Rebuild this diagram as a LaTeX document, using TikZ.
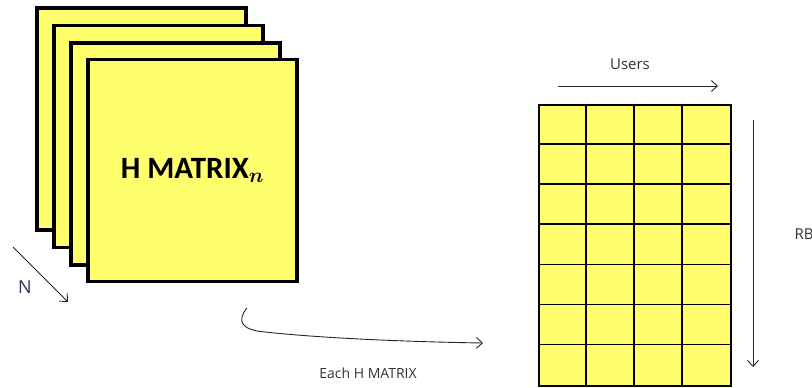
\documentclass[tikz,border=0pt]{standalone}
\usepackage{fontspec}
\setmainfont{Open Sans}
\newfontfamily\titlefont{Carlito}
\usetikzlibrary{arrows.meta}

\definecolor{sheetyellow}{RGB}{255,255,110}
\definecolor{nblue}{RGB}{45,55,85}

\begin{document}
\begin{tikzpicture}[x=1pt, y=-1pt, >={Straight Barb[length=6pt,width=11pt]},
    sheet/.style={rectangle, draw=black, line width=3.2pt, fill=sheetyellow, minimum width=209pt, minimum height=222pt, inner sep=0pt},
    cellgrid/.style={rectangle, draw=black, line width=2.4pt, fill=sheetyellow, minimum width=192pt, minimum height=281pt, inner sep=0pt},
    label/.style={font=\fontsize{15}{17}\selectfont, text=black!80},
    flow/.style={->, line width=0.9pt, black!85}]
\useasboundingbox (0,0) rectangle (812,388);

% Stack of H matrices
\node[sheet] (sheet1) at (141.5,119) {};
\node[sheet] (sheet2) at (158.5,136.5) {};
\node[sheet] (sheet3) at (175.5,154) {};
\node[sheet] (sheet4) at (192.5,170.5) {\titlefont\bfseries\fontsize{31}{34}\selectfont H MATRIX{\boldmath$_{n}$}};

% Depth of the stack
\coordinate (nstart) at (13,247);
\coordinate (nend) at (68,302);
\draw[flow] (nstart) -- (nend);
\node[label, font=\fontsize{18}{20}\selectfont, text=nblue] (nlabel) at (25,287) {N};

% One matrix: RB x users grid
\node[cellgrid] (grid) at (635,245.5) {};
\foreach \i in {1,2,3}
  \draw[line width=1.5pt] ([xshift=48*\i pt]grid.north west) -- ([xshift=48*\i pt]grid.south west);
\foreach \j in {1,...,6}
  \draw[line width=1.5pt] ([yshift=-40.14*\j pt]grid.north west) -- ([yshift=-40.14*\j pt]grid.north east);
\node[cellgrid, fill=none] at (grid) {};

% Axes of the grid
\coordinate (ustart) at (558,86);
\coordinate (uend) at (718,86);
\draw[flow] (ustart) -- (uend);
\node[label] (users) at (630,64) {Users};

\coordinate (rbstart) at (753,120);
\coordinate (rbend) at (753,367);
\draw[flow] (rbstart) -- (rbend);
\node[label, anchor=west] (rb) at (791,234) {RB};

% From the stack to a single matrix
\coordinate (hook) at (247,308);
\coordinate (curveend) at (483,343);
\draw[flow] (hook) .. controls (237,320) and (240,330) .. (265,332)
  .. controls (330,339) and (420,342) .. (curveend);
\node[label, font=\fontsize{14}{16}\selectfont] (each) at (368,373) {Each H MATRIX};

\end{tikzpicture}
\end{document}
